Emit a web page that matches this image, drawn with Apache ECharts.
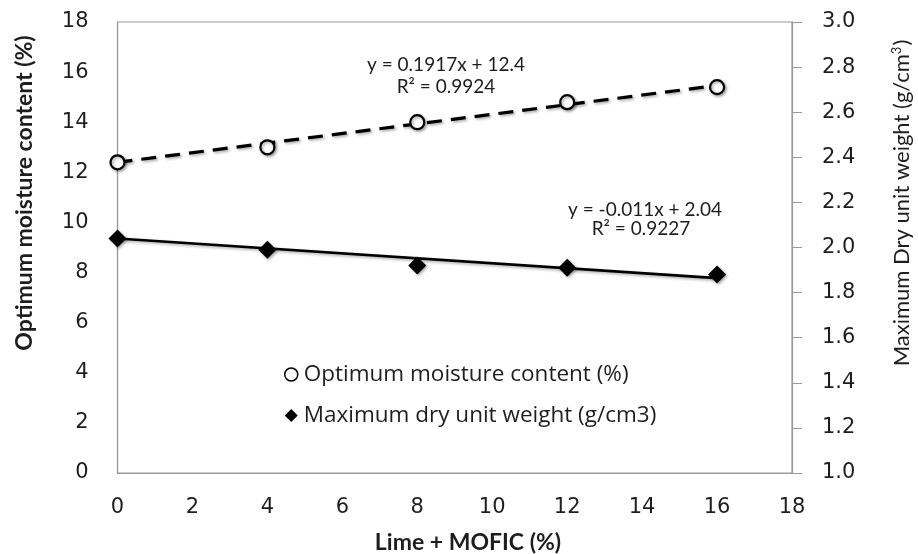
<!DOCTYPE html>
<html>
<head>
<meta charset="utf-8">
<script src="https://cdn.jsdelivr.net/npm/echarts@6/dist/echarts.min.js"></script>
<style>html,body{margin:0;padding:0;background:#fff}#chart{width:918px;height:554px}</style>
</head>
<body>
<div id="chart"></div>
<script>
// Lime + MOFIC content (%)
const additive = [0, 4, 8, 12, 16];
// Optimum moisture content (%), left axis
const moisture = [12.4, 13.0, 14.0, 14.8, 15.4];
// Maximum dry unit weight (g/cm3), right axis
const dryWeight = [2.04, 1.99, 1.92, 1.91, 1.88];
// Linear trend coefficients [slope, intercept]
const moistureFit = [0.1917, 12.4];
const weightFit = [-0.011, 2.04];
const xTicks = [0, 2, 4, 6, 8, 10, 12, 14, 16, 18];

const pairs = (xs, ys) => xs.map((x, i) => [x, ys[i]]);
const fitLine = (c) => [additive[0], additive[additive.length - 1]].map(x => [x, +(c[0] * x + c[1]).toFixed(4)]);

const ink = '#1e1e1e';
const tickFont = { fontFamily: 'DejaVu Sans', fontSize: 21, color: ink };
const shadow = { shadowColor: 'rgba(0,0,0,0.35)', shadowBlur: 3, shadowOffsetX: 1.5, shadowOffsetY: 1.5 };
const eqStyle = (text, x, y) => ({
  type: 'text', x, y,
  style: { text, fontFamily: 'Lato', fontSize: 19, fill: ink, align: 'center', verticalAlign: 'middle' }
});

const chart = echarts.init(document.getElementById('chart'), null, { renderer: 'canvas' });
chart.setOption({
  animation: false,
  backgroundColor: '#fff',
  grid: { left: 117.5, right: 126, top: 22, bottom: 81, show: true, borderColor: '#9a9a9a', borderWidth: 1.2 },
  legend: {
    orient: 'vertical', left: 279, top: 358, itemGap: 18, itemWidth: 13, itemHeight: 13,
    data: [
      { name: 'Optimum moisture content (%)', itemStyle: { color: '#fff', borderColor: '#000', borderWidth: 1.5 } },
      { name: 'Maximum dry unit weight (g/cm3)' }
    ],
    textStyle: { fontFamily: 'Open Sans', fontSize: 22.5, color: ink, padding: [0, 0, 0, 1] }
  },
  xAxis: {
    type: 'value', min: 0, max: 18, interval: 2,
    axisLine: { show: true, lineStyle: { color: '#9a9a9a', width: 1.2 } },
    axisTick: { show: false }, splitLine: { show: false },
    axisLabel: Object.assign({ margin: 24, formatter: v => xTicks.includes(v) ? String(v) : '' }, tickFont)
  },
  yAxis: [
    {
      type: 'value', min: 0, max: 18, interval: 2, position: 'left',
      axisLine: { show: true, lineStyle: { color: '#9a9a9a', width: 1.2 } },
      axisTick: { show: false }, splitLine: { show: false },
      axisLabel: Object.assign({ margin: 29 }, tickFont)
    },
    {
      type: 'value', min: 1.0, max: 3.0, interval: 0.2, position: 'right',
      axisLine: { show: true, lineStyle: { color: '#9a9a9a', width: 1.2 } },
      axisTick: { show: true, inside: false, length: 10, lineStyle: { color: '#9a9a9a' } },
      splitLine: { show: false },
      axisLabel: Object.assign({ margin: 30, formatter: v => v.toFixed(1) }, tickFont)
    }
  ],
  series: [
    {
      name: 'moisture trend', type: 'line', yAxisIndex: 0, data: fitLine(moistureFit),
      showSymbol: false, symbol: 'none', silent: true,
      lineStyle: Object.assign({ color: '#000', width: 3.2, type: [15, 9] }, shadow), z: 2
    },
    {
      name: 'weight trend', type: 'line', yAxisIndex: 1, data: fitLine(weightFit),
      showSymbol: false, symbol: 'none', silent: true,
      lineStyle: Object.assign({ color: '#000', width: 2.6 }, shadow), z: 2
    },
    {
      name: 'Optimum moisture content (%)', type: 'scatter', yAxisIndex: 0,
      data: pairs(additive, moisture), symbol: 'circle', symbolSize: 14,
      itemStyle: Object.assign({ color: '#fff', borderColor: '#000', borderWidth: 2.2, opacity: 1 }, shadow), z: 3
    },
    {
      name: 'Maximum dry unit weight (g/cm3)', type: 'scatter', yAxisIndex: 1,
      data: pairs(additive, dryWeight), symbol: 'diamond', symbolSize: 18,
      itemStyle: Object.assign({ color: '#000', opacity: 1 }, shadow), z: 3
    }
  ],
  graphic: [
    // axis titles
    { type: 'text', x: 25, y: 193, rotation: Math.PI / 2,
      style: { text: 'Optimum moisture content (%)', fontFamily: 'Lato', fontWeight: 'bold', fontSize: 23, fill: ink, align: 'center', verticalAlign: 'middle' } },
    { type: 'text', x: 468, y: 543,
      style: { text: 'Lime + MOFIC (%)', fontFamily: 'Lato', fontWeight: 'bold', fontSize: 23, fill: ink, align: 'center', verticalAlign: 'middle' } },
    { type: 'text', x: 902, y: 203, rotation: Math.PI / 2,
      style: {
        text: 'Maximum Dry unit weight (g/cm{sup|3})',
        rich: { sup: { fontFamily: 'Lato', fontSize: 13, verticalAlign: 'top', padding: [0, 1, 10, 0], fill: ink } },
        fontFamily: 'Lato', fontSize: 22, fill: ink, align: 'center', verticalAlign: 'middle'
      } },
    // trendline equations
    eqStyle('y = 0.1917x + 12.4', 446, 65),
    eqStyle('R² = 0.9924', 446, 87),
    eqStyle('y = -0.011x + 2.04', 645, 210),
    eqStyle('R² = 0.9227', 641, 229)
  ]
});
</script>
</body>
</html>
